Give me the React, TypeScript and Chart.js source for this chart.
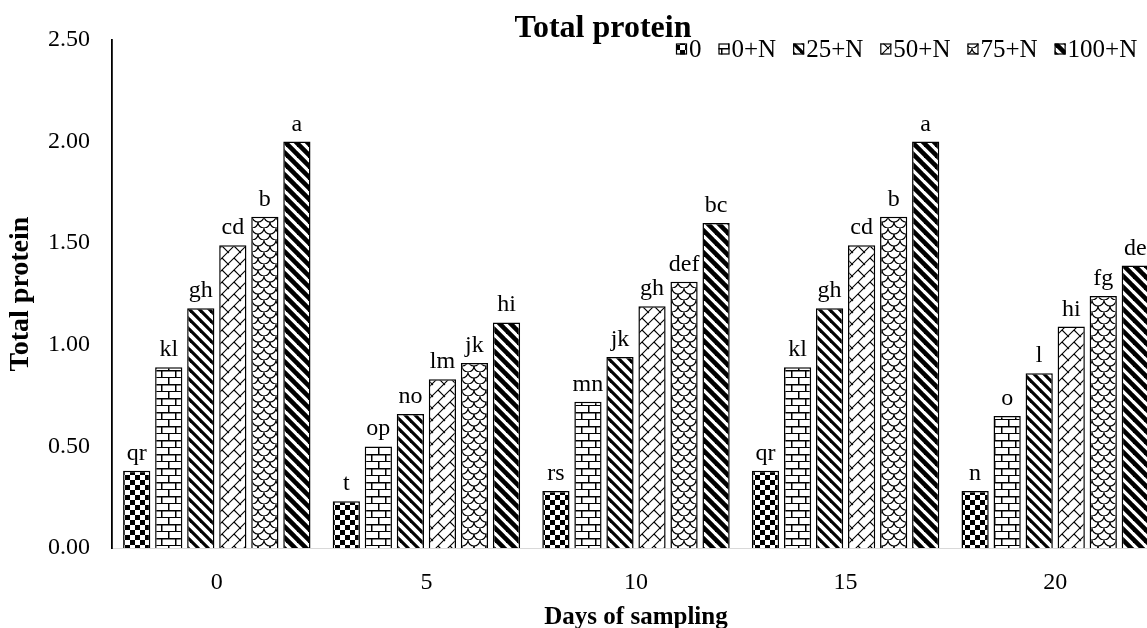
import React, { useEffect, useRef } from 'react';
import { Chart, registerables } from 'chart.js';

Chart.register(...registerables);

// ---- data ----
const days = ['0', '5', '10', '15', '20'];
const seriesNames = ['0', '0+N', '25+N', '50+N', '75+N', '100+N'];
const s0 = [0.38, 0.23, 0.28, 0.38, 0.28];
const s0N = [0.89, 0.5, 0.72, 0.89, 0.65];
const s25N = [1.18, 0.66, 0.94, 1.18, 0.86];
const s50N = [1.49, 0.83, 1.19, 1.49, 1.09];
const s75N = [1.63, 0.91, 1.31, 1.63, 1.24];
const s100N = [2.0, 1.11, 1.6, 2.0, 1.39];
const l0 = ['qr', 't', 'rs', 'qr', 'n'];
const l0N = ['kl', 'op', 'mn', 'kl', 'o'];
const l25N = ['gh', 'no', 'jk', 'gh', 'l'];
const l50N = ['cd', 'lm', 'gh', 'cd', 'hi'];
const l75N = ['b', 'jk', 'def', 'b', 'fg'];
const l100N = ['a', 'hi', 'bc', 'a', 'de'];
const yTicks = [0, 0.5, 1, 1.5, 2, 2.5];

const seriesValues = [s0, s0N, s25N, s50N, s75N, s100N];
const seriesLetters = [l0, l0N, l25N, l50N, l75N, l100N];

const SERIF = '"Liberation Serif", "Times New Roman", serif';

function makeTile(w: number, h: number, draw: (g: CanvasRenderingContext2D) => void) {
  const c = document.createElement('canvas');
  c.width = w;
  c.height = h;
  const g = c.getContext('2d')!;
  g.fillStyle = '#fff';
  g.fillRect(0, 0, w, h);
  g.fillStyle = '#000';
  g.strokeStyle = '#000';
  draw(g);
  return c;
}

function diagTile(size: number, lw: number) {
  return makeTile(size, size, (g) => {
    g.lineWidth = lw;
    for (let k = -size; k <= size; k += size) {
      g.beginPath();
      g.moveTo(-2, -2 + k);
      g.lineTo(size + 2, size + 2 + k);
      g.stroke();
    }
  });
}

function buildTiles() {
  const checker = makeTile(10, 10, (g) => {
    g.fillRect(0, 0, 5, 5);
    g.fillRect(5, 5, 5, 5);
  });
  const brick = makeTile(14, 14, (g) => {
    g.fillRect(0, 6, 14, 1.5);
    g.fillRect(0, 13, 14, 1.5);
    g.fillRect(0, 0, 1.5, 7);
    g.fillRect(7, 7, 1.5, 7);
  });
  const wide = diagTile(10, 3.2);
  const weave = makeTile(12, 12, (g) => {
    g.lineWidth = 1.1;
    g.beginPath();
    g.moveTo(-1, 13);
    g.lineTo(13, -1);
    g.moveTo(6, 6);
    g.lineTo(13, 13);
    g.moveTo(-1, -1);
    g.lineTo(1, 1);
    g.stroke();
  });
  const shingle = makeTile(12, 12, (g) => {
    g.lineWidth = 1.1;
    g.beginPath();
    g.arc(6, 0, 6, 0, Math.PI);
    g.stroke();
    g.beginPath();
    g.arc(0, 6, 6, 0, Math.PI);
    g.stroke();
    g.beginPath();
    g.arc(12, 6, 6, 0, Math.PI);
    g.stroke();
    g.beginPath();
    g.arc(6, 12, 6, 0, Math.PI);
    g.stroke();
  });
  const dark = diagTile(11, 4.6);
  return [checker, brick, wide, weave, shingle, dark];
}

export default function App() {
  const ref = useRef<HTMLCanvasElement>(null);

  useEffect(() => {
    const canvas = ref.current!;
    const ctx = canvas.getContext('2d')!;
    const tiles = buildTiles();
    const patterns = tiles.map((t) => ctx.createPattern(t, 'repeat')!);

    const labelsPlugin = {
      id: 'barLetters',
      afterDatasetsDraw(chart: any) {
        const c = chart.ctx;
        c.save();
        c.fillStyle = '#000';
        c.font = `24px ${SERIF}`;
        c.textAlign = 'center';
        c.textBaseline = 'alphabetic';
        chart.data.datasets.forEach((_: any, i: number) => {
          const meta = chart.getDatasetMeta(i);
          meta.data.forEach((bar: any, j: number) => {
            c.fillText(seriesLetters[i][j], bar.x, bar.y - 11);
          });
        });
        c.restore();
      },
    };

    const headerPlugin = {
      id: 'header',
      afterDraw(chart: any) {
        const c = chart.ctx;
        c.save();
        c.fillStyle = '#000';
        c.font = `bold 32px ${SERIF}`;
        c.textAlign = 'center';
        c.textBaseline = 'alphabetic';
        c.fillText('Total protein', 603, 37);
        // legend
        c.font = `25px ${SERIF}`;
        c.textAlign = 'left';
        c.textBaseline = 'middle';
        let x = 676;
        const y = 49;
        const box = 11;
        seriesNames.forEach((name, i) => {
          c.fillStyle = patterns[i];
          c.fillRect(x, y - box / 2, box, box);
          c.strokeStyle = '#000';
          c.lineWidth = 1.2;
          c.strokeRect(x + 0.5, y - box / 2 + 0.5, box - 1, box - 1);
          c.fillStyle = '#000';
          const tx = x + box + 2;
          c.fillText(name, tx, y + 1);
          x = tx + c.measureText(name).width + 17;
        });
        c.restore();
      },
    };

    const chart = new Chart(ctx, {
      type: 'bar',
      data: {
        labels: days,
        datasets: seriesValues.map((d, i) => ({
          label: seriesNames[i],
          data: d,
          backgroundColor: patterns[i] as any,
          borderColor: '#000',
          borderWidth: 1.5,
          categoryPercentage: 0.917,
          barPercentage: 0.85,
        })),
      },
      options: {
        responsive: false,
        animation: false,
        devicePixelRatio: 1,
        layout: { padding: { top: 40, right: 46, left: 0, bottom: 0 } },
        plugins: {
          legend: { display: false },
          title: { display: false },
          tooltip: { enabled: false },
        },
        scales: {
          x: {
            grid: { display: false, drawTicks: false },
            border: { color: '#d9d9d9', width: 1 },
            ticks: { color: '#000', font: { family: SERIF, size: 24 }, padding: 20 },
            title: {
              display: true,
              text: 'Days of sampling',
              color: '#000',
              font: { family: SERIF, size: 25, weight: 'bold' },
              padding: { top: 0, bottom: 3 },
            },
            afterFit: (s: any) => {
              s.height = 88;
            },
          },
          y: {
            min: 0,
            max: 2.5,
            afterBuildTicks: (s: any) => {
              s.ticks = yTicks.map((v) => ({ value: v }));
            },
            grid: { display: false, drawTicks: false },
            border: { color: '#000', width: 1.8 },
            ticks: {
              color: '#000',
              font: { family: SERIF, size: 24 },
              padding: 22,
              callback: (v: any) => Number(v).toFixed(2),
            },
            title: {
              display: true,
              text: 'Total protein',
              color: '#000',
              font: { family: SERIF, size: 28, weight: 'bold' },
              padding: { top: 4, bottom: 0 },
            },
            afterFit: (s: any) => {
              s.width = 112;
            },
          },
        },
      },
      plugins: [labelsPlugin, headerPlugin],
    });
    return () => chart.destroy();
  }, []);

  return (
    <div
      style={{
        position: 'fixed',
        left: 0,
        top: 0,
        width: 1147,
        height: 628,
        overflow: 'hidden',
        background: '#fff',
      }}
    >
      <canvas ref={ref} width={1206} height={636} style={{ display: 'block', width: '1206px', height: '636px' }} />
    </div>
  );
}
